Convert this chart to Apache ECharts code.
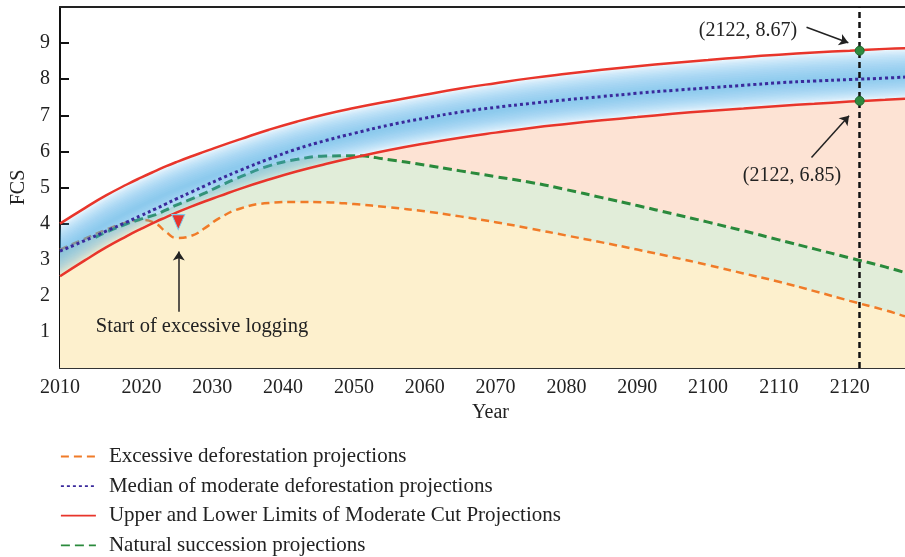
<!DOCTYPE html>
<html>
<head>
<meta charset="utf-8">
<script src="https://cdn.jsdelivr.net/npm/echarts@6/dist/echarts.min.js"></script>
<style>html,body{margin:0;padding:0;background:#fff}#c{width:905px;height:557px}</style>
</head>
<body>
<div id="c"></div>
<script>
// ---------- data ----------
const years = [2008.5, 2012, 2015, 2018, 2020, 2022, 2023.5, 2025, 2027, 2029, 2031, 2034, 2038, 2042, 2046, 2050, 2055, 2060, 2065, 2070, 2075, 2080, 2085, 2090, 2095, 2100, 2105, 2110, 2115, 2120, 2125, 2127.8];
const upperLimit = [4.00, 4.43, 4.78, 5.09, 5.28, 5.46, 5.59, 5.71, 5.86, 6.00, 6.14, 6.34, 6.60, 6.83, 7.03, 7.20, 7.39, 7.57, 7.74, 7.89, 8.03, 8.15, 8.26, 8.36, 8.45, 8.53, 8.61, 8.68, 8.74, 8.79, 8.84, 8.86];
const lowerLimit = [2.54, 2.98, 3.34, 3.66, 3.86, 4.05, 4.18, 4.31, 4.47, 4.62, 4.76, 4.97, 5.22, 5.45, 5.65, 5.83, 6.04, 6.22, 6.38, 6.52, 6.65, 6.76, 6.86, 6.95, 7.04, 7.12, 7.19, 7.26, 7.32, 7.38, 7.43, 7.46];
const median = [3.24, 3.53, 3.79, 4.05, 4.23, 4.41, 4.55, 4.69, 4.87, 5.05, 5.23, 5.48, 5.79, 6.07, 6.30, 6.50, 6.73, 6.92, 7.09, 7.22, 7.33, 7.43, 7.52, 7.61, 7.69, 7.76, 7.83, 7.90, 7.95, 7.99, 8.03, 8.06];
const excessive = [3.28, 3.58, 3.83, 4.04, 4.10, 4.00, 3.76, 3.60, 3.66, 3.88, 4.15, 4.42, 4.57, 4.60, 4.59, 4.54, 4.45, 4.34, 4.20, 4.04, 3.86, 3.67, 3.48, 3.28, 3.07, 2.85, 2.62, 2.39, 2.13, 1.86, 1.60, 1.43];
const successionYears = [2013.5, 2015, 2018, 2020, 2022, 2023.5, 2025, 2027, 2029, 2031, 2034, 2038, 2042, 2046, 2050, 2055, 2060, 2065, 2070, 2075, 2080, 2085, 2090, 2095, 2100, 2105, 2110, 2115, 2120, 2125, 2127.8];
const succession = [3.62, 3.76, 4.00, 4.13, 4.25, 4.38, 4.52, 4.68, 4.85, 5.04, 5.30, 5.60, 5.78, 5.87, 5.88, 5.77, 5.62, 5.46, 5.30, 5.14, 4.94, 4.72, 4.50, 4.27, 4.04, 3.80, 3.55, 3.30, 3.05, 2.80, 2.64];

const xTickValues = [2020, 2030, 2040, 2050, 2060, 2070, 2080, 2090, 2100, 2110, 2120];
const xLabelValues = [2008.5, 2020, 2030, 2040, 2050, 2060, 2070, 2080, 2090, 2100, 2110, 2120];
const xLabelTexts = ['2010', '2020', '2030', '2040', '2050', '2060', '2070', '2080', '2090', '2100', '2110', '2120'];
const yTickValues = [1, 2, 3, 4, 5, 6, 7, 8, 9];

const markerYear = 2121.4;
const markerValues = [8.79, 7.40];
const markerTexts = ['(2122, 8.67)', '(2122, 6.85)'];
const loggingStart = [2025.2, 4.04];
const loggingText = 'Start of excessive logging';

const NAME_EX = 'Excessive deforestation projections';
const NAME_MED = 'Median of moderate deforestation projections';
const NAME_LIM = 'Upper and Lower Limits of Moderate Cut Projections';
const NAME_NAT = 'Natural succession projections';

// ---------- build options ----------
const FONT = '"Liberation Serif", "Times New Roman", serif';
const pairs = (xs, ys) => xs.map((x, i) => [x, ys[i]]);
const SMOOTH = 0.5;
const X_MIN = 2008.5, X_MAX = 2127.8;

function fillSeries(name, xs, ys, color) {
  return { type: 'line', name, data: pairs(xs, ys), symbol: 'none', smooth: SMOOTH,
    lineStyle: { width: 0, opacity: 0 }, areaStyle: { color, opacity: 1 }, z: 1, silent: true };
}

// glow band between the limits: nested translucent polygons (library coords)
const LAYERS = 18, CENTER = 0.45, LAYER_ALPHA = 1 - Math.pow(0.38, 1 / LAYERS);
function renderBand(params, api) {
  if (params.dataIndex !== 0) return null;
  const children = [];
  for (let k = 0; k < LAYERS; k++) {
    const s = 1 - Math.pow(k / LAYERS, 1.3);
    const fLo = CENTER - CENTER * s, fHi = CENTER + (1 - CENTER) * s;
    const pts = [];
    for (let i = 0; i < years.length; i++) {
      const d = upperLimit[i] - lowerLimit[i];
      pts.push(api.coord([years[i], lowerLimit[i] + d * fHi]));
    }
    for (let i = years.length - 1; i >= 0; i--) {
      const d = upperLimit[i] - lowerLimit[i];
      pts.push(api.coord([years[i], lowerLimit[i] + d * fLo]));
    }
    children.push({ type: 'polygon', shape: { points: pts, smooth: 0 },
      style: { fill: `rgba(78,178,236,${LAYER_ALPHA.toFixed(4)})` } });
  }
  return { type: 'group', children };
}

const series = [
  fillSeries('fillLower', years, lowerLimit, '#fde3d4'),
  fillSeries('fillNatural', successionYears, succession, '#e1edd9'),
  fillSeries('fillExcessive', years, excessive, '#fdf0cd'),
  { type: 'line', name: NAME_EX, data: pairs(years, excessive), symbol: 'none', smooth: SMOOTH,
    lineStyle: { color: '#f07b28', width: 2.5, type: [8, 5] }, itemStyle: { color: '#f07b28' }, z: 2 },
  { type: 'line', name: NAME_NAT, data: pairs(successionYears, succession), symbol: 'none', smooth: SMOOTH,
    lineStyle: { color: '#2a8a3c', width: 3, type: [9, 5] }, itemStyle: { color: '#2a8a3c' }, z: 2 },
  { type: 'custom', name: 'band', data: years.map((x, i) => [x, lowerLimit[i], upperLimit[i]]),
    encode: { x: 0, y: [1, 2] }, renderItem: renderBand, z: 3, silent: true, clip: true },
  { type: 'line', name: NAME_MED, data: pairs(years, median), symbol: 'none', smooth: SMOOTH,
    lineStyle: { color: '#3a2a9c', width: 3, type: [3, 3] }, itemStyle: { color: '#3a2a9c' }, z: 4 },
  { type: 'line', name: NAME_LIM, data: pairs(years, upperLimit), symbol: 'none', smooth: SMOOTH,
    lineStyle: { color: '#e8352b', width: 2.5 }, itemStyle: { color: '#e8352b' }, z: 4 },
  { type: 'line', name: NAME_LIM, data: pairs(years, lowerLimit), symbol: 'none', smooth: SMOOTH,
    lineStyle: { color: '#e8352b', width: 2.5 }, itemStyle: { color: '#e8352b' }, z: 4 },
  { type: 'line', name: 'vline', data: [], z: 5, silent: true,
    markLine: { silent: true, symbol: ['none', 'none'], label: { show: false },
      lineStyle: { color: '#111', width: 2.5, type: [6, 4] }, data: [{ xAxis: markerYear }] } },
  { type: 'scatter', name: 'markerDots', data: markerValues.map(v => [markerYear, v]), symbol: 'circle', symbolSize: 9,
    itemStyle: { color: '#2f8a3f', borderColor: '#1d6a2c', borderWidth: 1, opacity: 1 }, z: 6, silent: true,
    markLine: { silent: true, symbol: ['none', 'arrow'], symbolSize: 9, label: { show: false },
      lineStyle: { color: '#222', width: 1.5, type: 'solid' },
      data: [
        [{ coord: [2113.9, 9.44] }, { coord: [2119.8, 9.01] }],
        [{ coord: [2114.6, 5.83] }, { coord: [2119.9, 6.99] }]
      ] } },
  { type: 'scatter', name: 'loggingMarker', data: [loggingStart], symbol: 'triangle', symbolRotate: 180,
    symbolSize: [13, 15], itemStyle: { color: '#e8332b', borderColor: '#7ccff0', borderWidth: 1, opacity: 1 }, z: 6, silent: true,
    markLine: { silent: true, symbol: ['none', 'arrow'], symbolSize: 9, label: { show: false },
      lineStyle: { color: '#222', width: 1.5, type: 'solid' },
      data: [[{ coord: [2025.27, 1.56] }, { coord: [2025.27, 3.23] }]] } }
];

const axisText = { fontFamily: FONT, fontSize: 20, color: '#222' };

const option = {
  animation: false,
  backgroundColor: '#fff',
  grid: { left: 60, right: 0, top: 7, bottom: 189, containLabel: false },
  legend: {
    data: [NAME_EX, NAME_MED, NAME_LIM, NAME_NAT],
    orient: 'vertical', left: 60, top: 446, height: 200, padding: 0,
    itemWidth: 35, itemHeight: 14, itemGap: 8.6,
    selectedMode: false, lineStyle: { width: 1.8 }, itemStyle: { opacity: 0 },
    textStyle: { fontFamily: FONT, fontSize: 21, color: '#222', lineHeight: 21, padding: [0, 0, 0, 8] }
  },
  xAxis: [
    { type: 'value', min: X_MIN, max: X_MAX, splitLine: { show: false },
      axisLine: { show: true, onZero: false, lineStyle: { color: '#333', width: 2 } },
      axisTick: { show: true, inside: true, length: 8, customValues: xTickValues, lineStyle: { color: '#333', width: 2 } },
      axisLabel: Object.assign({ customValues: xLabelValues, margin: 10,
        formatter: v => { const i = xLabelValues.indexOf(v); return i >= 0 ? xLabelTexts[i] : ''; } }, axisText),
      name: 'Year', nameLocation: 'middle', nameGap: 34,
      nameTextStyle: Object.assign({ padding: [0, 0, 0, 16] }, axisText) },
    { type: 'value', position: 'top', min: X_MIN, max: X_MAX, splitLine: { show: false },
      axisLine: { show: true, onZero: false, lineStyle: { color: '#222', width: 2 } },
      axisTick: { show: false }, axisLabel: { show: false } }
  ],
  yAxis: {
    type: 'value', min: 0, max: 10, interval: 1, splitLine: { show: false },
    axisLine: { show: true, onZero: false, lineStyle: { color: '#111', width: 2 } },
    axisTick: { show: true, inside: true, length: 9, customValues: yTickValues, lineStyle: { color: '#111', width: 2 } },
    axisLabel: Object.assign({ customValues: yTickValues, margin: 10 }, axisText),
    name: 'FCS', nameLocation: 'middle', nameGap: 30, nameTextStyle: axisText
  },
  graphic: [
    { type: 'text', silent: true, z: 10, style: { text: markerTexts[0], x: 748, y: 31, align: 'center', verticalAlign: 'middle', font: '20px ' + FONT, fill: '#222' } },
    { type: 'text', silent: true, z: 10, style: { text: markerTexts[1], x: 792, y: 176, align: 'center', verticalAlign: 'middle', font: '20px ' + FONT, fill: '#222' } },
    { type: 'text', silent: true, z: 10, style: { text: loggingText, x: 202, y: 327, align: 'center', verticalAlign: 'middle', font: '20.5px ' + FONT, fill: '#222' } }
  ],
  series
};

const chart = echarts.init(document.getElementById('c'), null, { renderer: 'canvas' });
chart.setOption(option);
</script>
</body>
</html>
